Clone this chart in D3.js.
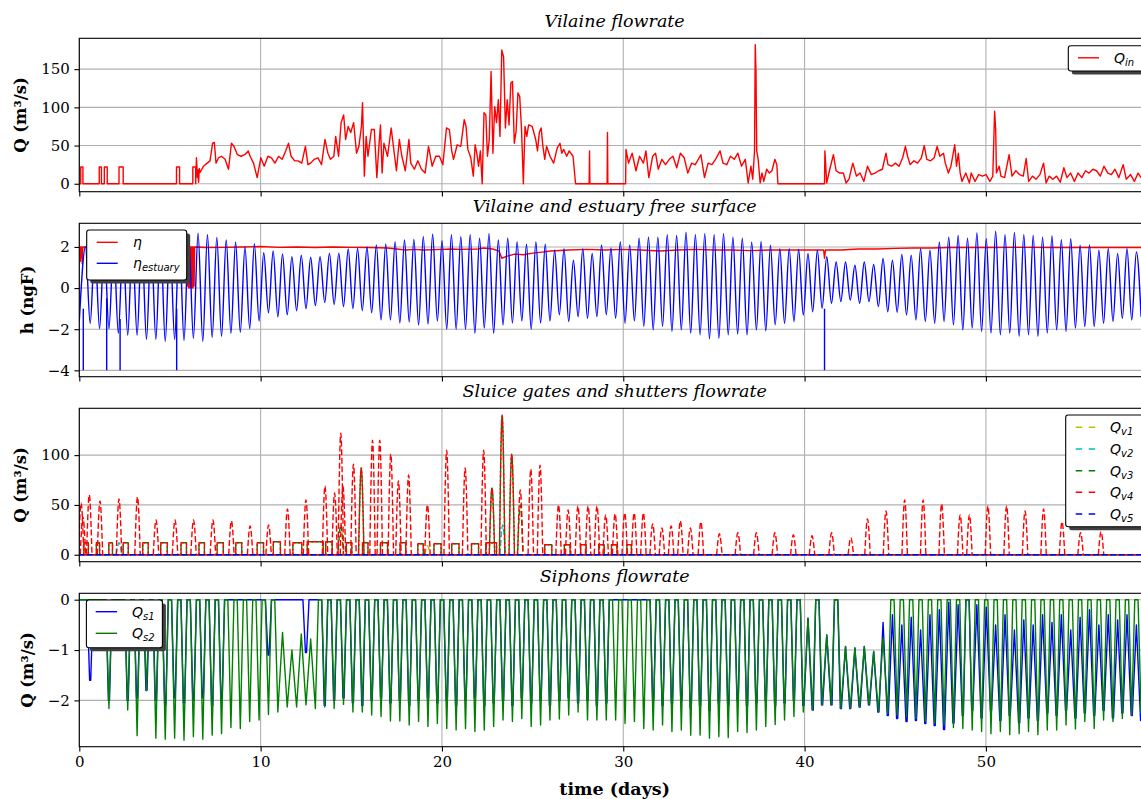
<!DOCTYPE html>
<html><head><meta charset="utf-8">
<script src="https://cdn.jsdelivr.net/npm/d3@7/dist/d3.min.js"></script>
<style>html,body{margin:0;padding:0;background:#fff;}svg{display:block;}</style>
</head><body>
<svg id="chart" width="1141" height="799"></svg>
<script>
// ================= DATA =================
const xTickDays = [0, 10, 20, 30, 40, 50];
const xLabel = "time (days)";
const panelTitles = ["Vilaine flowrate", "Vilaine and estuary free surface", "Sluice gates and shutters flowrate", "Siphons flowrate"];
const yLabels = ["Q (m³/s)", "h (ngF)", "Q (m³/s)", "Q (m³/s)"];
const yTicks1 = [0, 50, 100, 150];
const yTicks2 = [-4, -2, 0, 2];
const yTicks3 = [0, 50, 100];
const yTicks4 = [-2, -1, 0];

// Panel 1 : Vilaine inflow Q_in (days, m3/s)
const qinDays = [0,0.08,0.08,0.2,0.2,1.1,1.1,1.22,1.22,1.38,1.38,1.54,1.54,2.19,2.19,2.42,2.42,5.36,5.36,5.53,5.53,6.26,6.26,6.42,6.42,
 6.46,6.52,6.55,6.58,6.62,6.66,6.76,6.85,7.05,7.21,7.35,7.45,7.54,7.68,7.84,8.04,8.23,8.39,8.53,8.72,8.92,9.12,9.32,9.42,9.61,9.81,
 10.01,10.2,10.4,10.6,10.79,10.99,11.19,11.38,11.54,11.68,11.88,12.07,12.27,12.47,12.61,12.76,12.96,13.16,13.36,13.55,13.71,13.85,14.04,14.14,14.3,
 14.44,14.58,14.69,14.83,14.97,15.13,15.29,15.42,15.56,15.62,15.72,15.82,15.92,16.11,16.27,16.41,16.51,16.61,16.7,16.8,17.0,17.2,17.39,17.49,17.65,17.79,17.98,
 18.18,18.28,18.48,18.67,18.87,19.07,19.26,19.46,19.66,19.86,20.05,20.25,20.41,20.54,20.64,20.84,21.04,21.23,21.33,21.43,21.59,21.73,21.83,21.92,22.02,22.12,22.22,
 22.32,22.42,22.51,22.61,22.71,22.81,22.91,23.01,23.11,23.2,23.3,23.4,23.5,23.6,23.7,23.8,23.89,23.99,24.09,24.19,24.29,24.39,24.49,24.58,24.68,24.78,24.98,
 25.17,25.27,25.37,25.47,25.57,25.67,25.77,25.96,26.16,26.36,26.51,26.61,26.71,26.88,27.02,27.23,27.37,28.12,28.14,28.16,29.11,29.13,29.15,30.13,
 30.15,30.29,30.49,30.7,30.9,31.11,31.25,31.41,31.62,31.78,31.93,32.13,32.33,32.54,32.74,32.95,33.15,33.36,33.56,33.77,33.97,34.28,34.48,34.68,34.89,
 35.09,35.34,35.5,35.71,35.91,36.12,36.32,36.52,36.73,36.89,37.04,37.14,37.24,37.28,37.32,37.36,37.44,37.55,37.65,37.75,37.91,38.06,38.2,38.36,38.47,38.53,41.1,
 41.12,41.22,41.39,41.59,41.74,41.94,42.14,42.29,42.45,42.66,42.86,43.06,43.27,43.47,43.68,43.88,44.09,44.29,44.49,44.6,44.8,45.01,45.21,45.41,45.56,45.68,45.82,
 46.03,46.23,46.44,46.6,46.74,46.95,47.15,47.31,47.46,47.66,47.76,47.93,48.07,48.28,48.38,48.48,48.58,48.68,48.89,49.09,49.19,49.4,49.6,49.81,50.01,50.22,50.38,
 50.48,50.54,50.58,50.73,50.83,51.03,51.28,51.44,51.65,51.85,52.06,52.22,52.36,52.57,52.77,52.98,53.18,53.32,53.49,53.69,53.9,54.1,54.3,54.47,54.67,54.88,
 55.08,55.29,55.49,55.69,55.9,56.1,56.31,56.51,56.72,56.92,57.12,57.33,57.57,57.74,57.98,58.19,58.39,58.56];
const qinFlow = [0,0,22,22,0,0,22,22,0,0,22,22,0,0,22,22,0,0,22,22,0,0,22,22,0,
 34,8,18,2,20,15,19,23,27,30,53,54,27,34,36,32,19,53,49,38,36,38,43,36,27,8,
 34,23,36,34,27,36,32,43,53,36,30,30,27,49,25,27,32,34,25,58,40,32,36,62,36,
 80,90,58,75,67,80,40,49,75,106,10,62,36,71,71,8,45,77,14,53,36,73,36,17,58,36,17,
 58,27,19,30,19,14,49,23,36,36,25,73,71,43,32,51,49,84,75,45,34,10,51,40,23,43,0,
 93,90,36,58,147,40,101,80,110,62,175,166,73,110,77,132,134,53,69,119,114,71,0,75,62,77,75,
 58,43,67,73,49,32,49,36,27,47,53,40,45,36,43,36,0,0,43,0,0,67,0,0,
 45,27,40,17,36,27,43,8,36,40,19,32,25,32,36,21,40,34,14,27,25,38,8,27,25,
 32,43,27,25,36,32,40,23,32,1,23,6,43,182,147,43,32,1,14,3,19,14,17,32,25,0,0,
 43,1,19,38,17,14,14,1,6,27,10,14,3,23,12,14,17,19,40,25,23,27,23,34,49,36,25,
 30,27,34,50,32,30,34,49,36,40,27,14,23,51,23,40,14,3,14,1,14,3,12,10,12,3,10,
 95,71,14,23,10,8,38,10,17,12,10,33,3,10,6,12,27,1,10,6,10,2,21,8,14,3,
 14,8,17,14,19,17,10,23,14,12,19,8,25,6,12,3,14,8];

// Tide cycles (panel 2 & 4): cycle k has a high water then a low water
const tideFirstHigh = 0.34, tideFirstLow = 0.6, tidePeriod = 0.5175;
const estuaryStart = -1.6;
const estuaryHigh = [2.0,2.1,2.2,2.2,2.3,2.3,2.4,2.4,2.5,2.5,2.6,2.6,
 2.67,2.59,2.46,2.34,2.24,2.0,2.16,1.72,1.8,1.66,1.53,1.6,1.5,1.53,1.7,1.7,1.9,1.93,2.0,2.1,2.15,2.26,2.34,2.37,2.5,2.62,2.3,2.6,2.5,2.6,2.42,2.65,2.34,2.42,2.26,2.13,2.26,2.13,1.85,
 1.92,1.35,1.92,1.68,2.1,1.95,2.25,2.1,2.43,2.48,2.48,2.6,2.56,2.72,2.6,2.65,2.6,2.65,2.48,2.43,2.24,2.27,2.08,1.92,1.92,1.89,1.68,1.84,1.52,1.27,1.27,1.11,1.27,1.15,1.44,1.35,1.63,1.6,1.92,1.84,2.24,2.48,2.56,2.43,2.68,2.4,2.76,2.6,2.7,2.6,2.56,2.48,2.53,2.35,2.4,2.08,2.1,1.84,1.92,1.68,1.92,1.76];
const estuaryLow = [-1.72,-1.97,-1.97,-2.2,-2.3,-2.3,-2.5,-2.5,-2.6,-2.5,-2.55,-2.45,-2.6,-2.4,-2.35,-2.2,-2.15,-1.97,-1.6,-1.2,-1.4,-1.3,-1.1,-1.0,-0.85,-0.7,-0.8,-0.9,-1.0,-1.1,-1.2,-1.55,-1.55,-1.7,-1.65,-1.8,-1.75,-1.6,-2.0,-2.0,-2.0,-2.2,-1.95,-2.2,-1.8,-1.7,-1.6,-2.0,-1.7,-1.6,
 -1.3,-1.63,-1.39,-1.47,-1.39,-1.3,-1.47,-1.71,-1.6,-1.87,-2.03,-1.87,-2.11,-2.03,-2.19,-2.27,-2.47,-2.44,-2.27,-2.24,-2.27,-2.03,-2.08,-1.79,-1.71,-1.63,-1.31,-1.15,-0.98,-0.74,-0.66,-0.58,-0.74,-0.66,-0.9,-1.15,-1.18,-1.31,-1.55,-1.63,-1.71,-1.63,-1.79,-2.03,-1.95,-2.11,-2.19,-2.27,-2.19,-2.35,-2.27,-2.35,-2.19,-2.03,-2.11,-1.95,-1.87,-1.87,-1.71,-1.63,-1.47,-1.55,-1.39];
const estuaryDropDays = [0.22, 1.51, 2.25, 5.37, 41.1];
const estuaryDropFrom = [-1.0, -0.5, -1.5, -1.0, -1.0];
const estuaryDropTo = [-4, -4, -4, -4, -4];

// Vilaine level eta
const etaDays = [0,0.05,0.06,0.09,0.11,0.14,0.16,0.2,0.25,5.9,5.95,5.97,6.0,6.03,6.06,6.09,6.12,6.15,6.18,6.21,6.24,6.27,6.3,6.33,6.36,
 7,8,9,10,11,12,13,14,15,16,17,17.5,18,18.5,19,20,20.5,21,22,22.3,22.8,23.15,23.3,23.6,24.0,24.5,25,25.5,26,
 27,28,29,30,31,32,33,34,35,36,37,38,39,40,41.05,41.1,41.15,42,43,44,45,46,47,48,50,52,54,56,58,59.05];
const etaLevel = [2.0,2.0,1.3,2.0,1.5,2.0,1.2,2.0,2.0,2.0,2.0,0.1,2.0,0.0,2.0,0.0,2.0,0.05,2.0,0.0,2.0,0.0,2.0,0.1,2.0,
 1.97,1.98,2.0,2.02,1.98,2.0,1.97,2.0,1.98,1.97,1.95,1.9,1.85,1.88,1.85,1.88,1.9,1.88,1.9,1.95,1.9,1.8,1.45,1.55,1.65,1.62,1.7,1.75,1.8,
 1.85,1.88,1.85,1.88,1.85,1.8,1.85,1.88,1.85,1.85,1.82,1.85,1.85,1.85,1.85,1.45,1.85,1.85,1.9,1.9,1.93,1.95,1.95,1.97,1.97,1.98,1.97,1.97,1.97,1.97];

// Panel 3 : shutters (peaks) and gates (constant-flow openings)
const v4PeakDays = [0.1,0.2,0.55,1.14,2.19,3.21,4.23,5.28,6.30,7.37,8.39,9.42,10.44,11.48,12.5,13.55,14.08,14.42,14.54,15.12,15.55,16.17,16.57,17.18,17.6,18.16,19.2,20.26,21.28,22.3,22.76,23.32,23.85,24.32,24.9,25.41,26.43,26.96,27.5,28.06,28.55,29.03,29.55,30.08,30.6,31.11,31.62,32.13,32.64,33.15,33.7,34.28,35.3,36.32,37.34,38.36,39.38,40.41,41.49,42.55,43.47,44.49,45.52,46.54,47.56,48.58,49.09,50.11,51.14,52.16,53.18,54.2,55.22,56.35];
const v4PeakFlow = [52,38,60,54,56,58,35,35,35,35,34,29,30,46,55,69,62,122,69,91,87,115,115,101,74,80,50,105,87,105,67,140,101,65,86,90,50,45,49,49,49,40,41,42,42,42,31,27,29,34,27,33,21,22,22,22,20,19,22,17,36,44,55,55,51,40,40,49,49,44,46,33,22,23];
const gateOpen  = [0.25,0.94,1.63,2.42,3.5,4.49,5.61,6.6,7.6,8.63,9.81,10.7,11.78,12.57,13.59,14.73,15.62,16.61,17.69,18.67,19.56,20.54,21.63,22.42,25.67,26.75,27.65,28.65,29.35,30.2];
const gateClose = [0.5,1.12,1.83,2.7,3.8,4.85,5.91,6.9,7.94,8.96,10.16,11.09,12.27,13.45,13.95,15.03,15.92,17.0,18.0,18.97,19.95,20.94,22.02,23.01,26.06,27.07,27.95,28.95,29.65,30.45];
const gateFlow  = [12,12,12,12,12,12,12,12,12,12,12,13,12,13,13,12,12,12,12,11,11,11,11,12,10,10,10,10,10,10];
const v3PeakDays = [14.42,15.55,22.76,23.32,23.85,24.32];
const v3PeakFlow = [30,87,67,140,101,50];
const v2PeakDays = [2.19,23.35];
const v2PeakFlow = [12,30];
const v1PeakDays = [19.2];
const v1PeakFlow = [9];

// Panel 4 : siphons, per tide cycle (value at high water, value at low water)
const s2High = [0,0,0,0,0,0,0,0,0,0, 0,0,0,0,0,0,0,0,0,0, 0,-0.65,-1.0,-0.68,-0.78,0,0,0,0,0,
 0,0,0,0,0,0,0,0,0,0, 0,0,0,0,0,0,0,0,0,0, 0,0,0,0,0,0,0,0,0,0, 0,0,0,0,0,0,0,0,0,0,
 0,0,0,0,0,0,0,-0.37,0,-0.7, 0,-0.93,-0.96,-0.93,-1.03,-0.76,0,0,0,0, 0,0,0,0,0,0,0,0,0,0, 0,0,0,0,0,0,0,0,0,0, 0,0,0];
const s2Low = [0,0,-2.16,0,-2.19,-2.7,-1.81,-2.75,-2.77,-2.75,-2.79,-2.72,-2.77,-2.69,-2.66,-2.54,-2.56,-2.42,-2.39,-2.28,-2.23,-2.13,-2.13,-2.09,-2.16,-2.13,-2.16,-2.08,-2.23,-2.23,-2.29,-2.32,-2.41,-2.41,-2.49,-2.42,-2.52,-2.46,-2.56,-2.59,-2.56,-2.62,-2.59,-2.52,-2.39,-2.42,-2.36,-2.52,-2.49,-2.39,-2.37,
 -2.29,-2.23,-2.39,-2.39,-2.39,-2.39,-2.46,-2.42,-2.56,-2.59,-2.49,-2.62,-2.59,-2.69,-2.69,-2.75,-2.72,-2.74,-2.62,-2.64,-2.59,-2.52,-2.48,-2.39,-2.32,-2.23,-2.19,-2.09,-2.09,-2.16,-2.16,-2.13,-2.09,-2.23,-2.26,-2.29,-2.32,-2.36,-2.42,-2.46,-2.49,-2.54,-2.56,-2.59,-2.62,-2.66,-2.62,-2.68,-2.66,-2.62,-2.68,-2.59,-2.59,-2.49,-2.57,-2.42,-2.56,-2.39,-2.42,-2.36,-2.29,-2.26];
const s1High = [0,0,0,0,0,0,0,0,0,0, 0,0,0,0,0,0,0,0,0,0, 0,0,0,0,0,0,0,0,0,0,
 0,0,0,0,0,0,0,0,0,0, 0,0,0,0,0,0,0,0,0,0, 0,0,0,0,0,0,0,0,0,0, 0,0,0,0,0,0,0,0,0,0,
 0,0,0,0,0,0,0,-0.37,0,-0.7, 0,-0.93,-0.96,-0.93,-1.03,
 -0.45,-0.3,-0.5,-0.35,-0.6,-0.3,-0.2,-0.05,-0.1,0,-0.1,-0.15,-0.5,-0.3,-0.6,-0.4,-0.5,-0.3,-0.45,-0.3,-0.6,-0.35,-0.2,-0.5,-0.3,-0.4,-0.3,-0.5];
const s1Low = [-1.6,0,-2.0,0,-2.0,
 -1.95,-1.8,-2.0,-2.1,-1.95,-2.05,-2.0,-1.95,-2.1,-2.0,
 0,0,0,0,-1.1,0,0,0,-1.05,0,
 -2.1,-2.0,-1.95,-2.05,-2.1,-2.0,-1.95,-2.05,-2.0,-2.1,-2.0,-1.95,-2.05,-2.0,-2.1,-2.0,-1.95,-2.1,-2.05,-2.0,-2.1,-1.95,-2.05,-2.0,-2.1,-2.0,-1.95,-2.05,-2.0,-2.1,-2.05,
 0,0,0,0,
 -2.0,-2.1,-2.05,-2.0,-2.15,-2.1,-2.2,-2.05,-2.1,-2.0,-2.1,-2.05,-2.0,-2.1,-2.05,-2.0,-2.1,
 -2.19,-2.09,-2.09,-2.16,-2.16,-2.13,-2.09,-2.23,
 -2.3,-2.36,-2.42,-2.4,-2.46,-2.5,-2.58,-2.45,-2.3,-2.2,-2.35,-2.2,-2.4,-2.3,-2.45,-2.35,-2.4,-2.25,-2.3,-2.2,-2.35,-2.25,-2.3,-2.2,-2.35,-2.25,-2.3,-2.4];

// Legends
const legend1 = [{main: "Q", sub: "in"}];
const legend2 = [{main: "η", sub: ""}, {main: "η", sub: "estuary"}];
const legend3 = [{main: "Q", sub: "v1"}, {main: "Q", sub: "v2"}, {main: "Q", sub: "v3"}, {main: "Q", sub: "v4"}, {main: "Q", sub: "v5"}];
const legend4 = [{main: "Q", sub: "s1"}, {main: "Q", sub: "s2"}];

// ================= LAYOUT & STYLE =================
const C = {r: "#ff0000", b: "#0000ff", g: "#008000", y: "#bfbf00", c: "#00bfbf"};
const serif = "'DejaVu Serif', serif", sans = "'DejaVu Sans', sans-serif";
const L = 79.3, R = 1150, PH = 153.4;
const tops = [38.3, 223.3, 408.3, 593.3];
const yDomains = [[-10.4, 190.4], [-4.31, 3.15], [-7, 147], [-2.92, 0.127]];
const labelXs = [20, 27, 20, 27];
const allYTicks = [yTicks1, yTicks2, yTicks3, yTicks4];
const LW = 1.4, DASH = "6,2.6";
const TICK_FS = 15, TITLE_FS = 17.5, LABEL_FS = 16.5, XLABEL_FS = 17.5;

const svg = d3.select("#chart");
const defs = svg.append("defs");
const x = d3.scaleLinear().domain([0, 59.05]).range([L, R]);

const panels = tops.map((top, i) => {
  const bot = top + PH;
  const y = d3.scaleLinear().domain(yDomains[i]).range([bot, top]);
  defs.append("clipPath").attr("id", "clip" + i).append("rect")
    .attr("x", L).attr("y", top).attr("width", R - L).attr("height", PH);
  const g = svg.append("g");
  g.append("g").selectAll("line").data(xTickDays).join("line")
    .attr("x1", d => x(d)).attr("x2", d => x(d)).attr("y1", top).attr("y2", bot)
    .attr("stroke", "#b0b0b0").attr("stroke-width", 1.1);
  g.append("g").selectAll("line").data(allYTicks[i]).join("line")
    .attr("x1", L).attr("x2", R).attr("y1", d => y(d)).attr("y2", d => y(d))
    .attr("stroke", "#b0b0b0").attr("stroke-width", 1.1);
  const plot = g.append("g").attr("clip-path", `url(#clip${i})`);
  return {top, bot, y, g, plot};
});

function line(y, curve) {
  const l = d3.line().x(d => x(d[0])).y(d => y(d[1]));
  if (curve) l.curve(curve);
  return l;
}
function addPath(p, pts, color, opts = {}) {
  return p.plot.append("path").attr("d", line(p.y, opts.curve)(pts))
    .attr("fill", "none").attr("stroke", color).attr("stroke-width", LW)
    .attr("stroke-linejoin", "round")
    .attr("stroke-dasharray", opts.dash || null)
    .attr("stroke-dashoffset", opts.offset || 0);
}

// ---- Panel 1
{
  const p = panels[0];
  addPath(p, qinDays.map((t, k) => [t, qinFlow[k]]), C.r);
}
// ---- Panel 2
{
  const p = panels[1];
  addPath(p, etaDays.map((t, k) => [t, etaLevel[k]]), C.r);
  const pts = [[0, estuaryStart]];
  estuaryHigh.forEach((h, k) => {
    pts.push([tideFirstHigh + k * tidePeriod, h]);
    pts.push([tideFirstLow + k * tidePeriod, estuaryLow[k]]);
  });
  addPath(p, pts, C.b, {curve: d3.curveMonotoneX});
  estuaryDropDays.forEach((t, k) => addPath(p, [[t, estuaryDropFrom[k]], [t, estuaryDropTo[k]]], C.b));
}
// ---- Panel 3
{
  const p = panels[2];
  const hw = 0.15;
  const hump = (t, h) => [[t - hw, 0], [t, h], [t + hw, 0]];
  const end = x.domain()[1];
  [[C.y, 0], [C.c, 2], [C.g, 4], [C.r, 6]].forEach(([c, o]) => addPath(p, [[0, 0], [end, 0]], c, {dash: DASH, offset: o}));
  v1PeakDays.forEach((t, k) => addPath(p, hump(t, v1PeakFlow[k]), C.y, {dash: DASH, curve: d3.curveMonotoneX}));
  v2PeakDays.forEach((t, k) => addPath(p, hump(t, v2PeakFlow[k]), C.c, {dash: DASH, curve: d3.curveMonotoneX}));
  gateOpen.forEach((t, k) => addPath(p, [[t, 0], [t, gateFlow[k]], [gateClose[k], gateFlow[k]], [gateClose[k], 0]], C.g, {dash: DASH, offset: 4}));
  v3PeakDays.forEach((t, k) => addPath(p, hump(t, v3PeakFlow[k]), C.g, {dash: DASH, offset: 4, curve: d3.curveMonotoneX}));
  gateOpen.forEach((t, k) => addPath(p, [[t, 0], [t, gateFlow[k]], [gateClose[k], gateFlow[k]], [gateClose[k], 0]], C.r, {dash: DASH}));
  v4PeakDays.forEach((t, k) => addPath(p, hump(t, v4PeakFlow[k]), C.r, {dash: DASH, curve: d3.curveMonotoneX}));
  addPath(p, [[0, 0], [end, 0]], C.b, {dash: DASH, offset: 1});
}
// ---- Panel 4
{
  const p = panels[3];
  const flat = 0.09, bottom = 0.03;
  const b = [[0, 0]], g = [[0, 0]];
  s2Low.forEach((lo, k) => {
    const th = tideFirstHigh + k * tidePeriod, tl = tideFirstLow + k * tidePeriod;
    if (s1High[k] === 0) b.push([th - flat, 0], [th + flat, 0]); else b.push([th, s1High[k]]);
    b.push([tl - bottom, s1Low[k]], [tl + bottom, s1Low[k]]);
    if (s2High[k] === 0) g.push([th - flat, 0], [th + flat, 0]); else g.push([th, s2High[k]]);
    g.push([tl, lo]);
  });
  addPath(p, b, C.b);
  addPath(p, g, C.g);
}

// ---- Frames, axes, labels
panels.forEach((p, i) => {
  svg.append("rect").attr("x", L).attr("y", p.top).attr("width", R - L).attr("height", PH)
    .attr("fill", "none").attr("stroke", "#000").attr("stroke-width", 1.1);
  const ax = svg.append("g").attr("transform", `translate(0,${p.bot})`)
    .call(d3.axisBottom(x).tickValues(xTickDays).tickSize(4.9).tickPadding(4.6).tickSizeOuter(0)
      .tickFormat(i === 3 ? d3.format("d") : () => ""));
  const ay = svg.append("g").attr("transform", `translate(${L},0)`)
    .call(d3.axisLeft(p.y).tickValues(allYTicks[i]).tickSize(4.9).tickPadding(4.6).tickSizeOuter(0)
      .tickFormat(d3.format("d")));
  [ax, ay].forEach(a => {
    a.select(".domain").remove();
    a.selectAll("line").attr("stroke", "#000").attr("stroke-width", 1.1);
    a.selectAll("text").attr("font-family", serif).attr("font-size", TICK_FS).attr("fill", "#000");
  });
  svg.append("text").attr("x", (L + R) / 2).attr("y", p.top - 11).attr("text-anchor", "middle")
    .attr("font-family", serif).attr("font-style", "italic").attr("font-size", TITLE_FS).text(panelTitles[i]);
  svg.append("text").attr("transform", `translate(${labelXs[i]},${p.top + PH / 2}) rotate(-90)`)
    .attr("text-anchor", "middle").attr("dominant-baseline", "central")
    .attr("font-family", serif).attr("font-weight", "bold").attr("font-size", LABEL_FS).text(yLabels[i]);
});
svg.append("text").attr("x", (L + R) / 2).attr("y", 795).attr("text-anchor", "middle")
  .attr("font-family", serif).attr("font-weight", "bold").attr("font-size", XLABEL_FS).text(xLabel);

// ---- Legends
function legend(box, items, colors, dash) {
  const g = svg.append("g");
  g.append("rect").attr("x", box.x + 3.5).attr("y", box.y + 3.5).attr("width", box.w).attr("height", box.h)
    .attr("rx", 2.5).attr("fill", "#404040");
  g.append("rect").attr("x", box.x).attr("y", box.y).attr("width", box.w).attr("height", box.h)
    .attr("rx", 2.5).attr("fill", "#fff").attr("stroke", "#000").attr("stroke-width", 1.1);
  items.forEach((it, k) => {
    const cy = box.rows[k];
    g.append("line").attr("x1", box.lx0).attr("x2", box.lx1).attr("y1", cy).attr("y2", cy)
      .attr("stroke", colors[k]).attr("stroke-width", LW).attr("stroke-dasharray", dash || null);
    const t = g.append("text").attr("x", box.tx).attr("y", cy + 5)
      .attr("font-family", sans).attr("font-size", 14).attr("font-style", "italic");
    t.append("tspan").text(it.main);
    if (it.sub) t.append("tspan").attr("font-size", 10).attr("dy", 3).text(it.sub);
  });
}
legend({x: 1068.3, y: 45.7, w: 80, h: 25.3, rows: [57.8], lx0: 1078, lx1: 1099, tx: 1114}, legend1, [C.r]);
legend({x: 86.7, y: 230, w: 100, h: 50, rows: [242.3, 263.3], lx0: 96.7, lx1: 117.7, tx: 133}, legend2, [C.r, C.b]);
legend({x: 1065.7, y: 415, w: 80, h: 111.7, rows: [427.3, 449, 470.7, 492.3, 514], lx0: 1075.7, lx1: 1095.4, tx: 1110}, legend3, [C.y, C.c, C.g, C.r, C.b], "6.5,6.5");
legend({x: 86.4, y: 600, w: 76, h: 47.7, rows: [611.7, 633.3], lx0: 95.7, lx1: 117.1, tx: 132}, legend4, [C.b, C.g]);
</script>
</body></html>
